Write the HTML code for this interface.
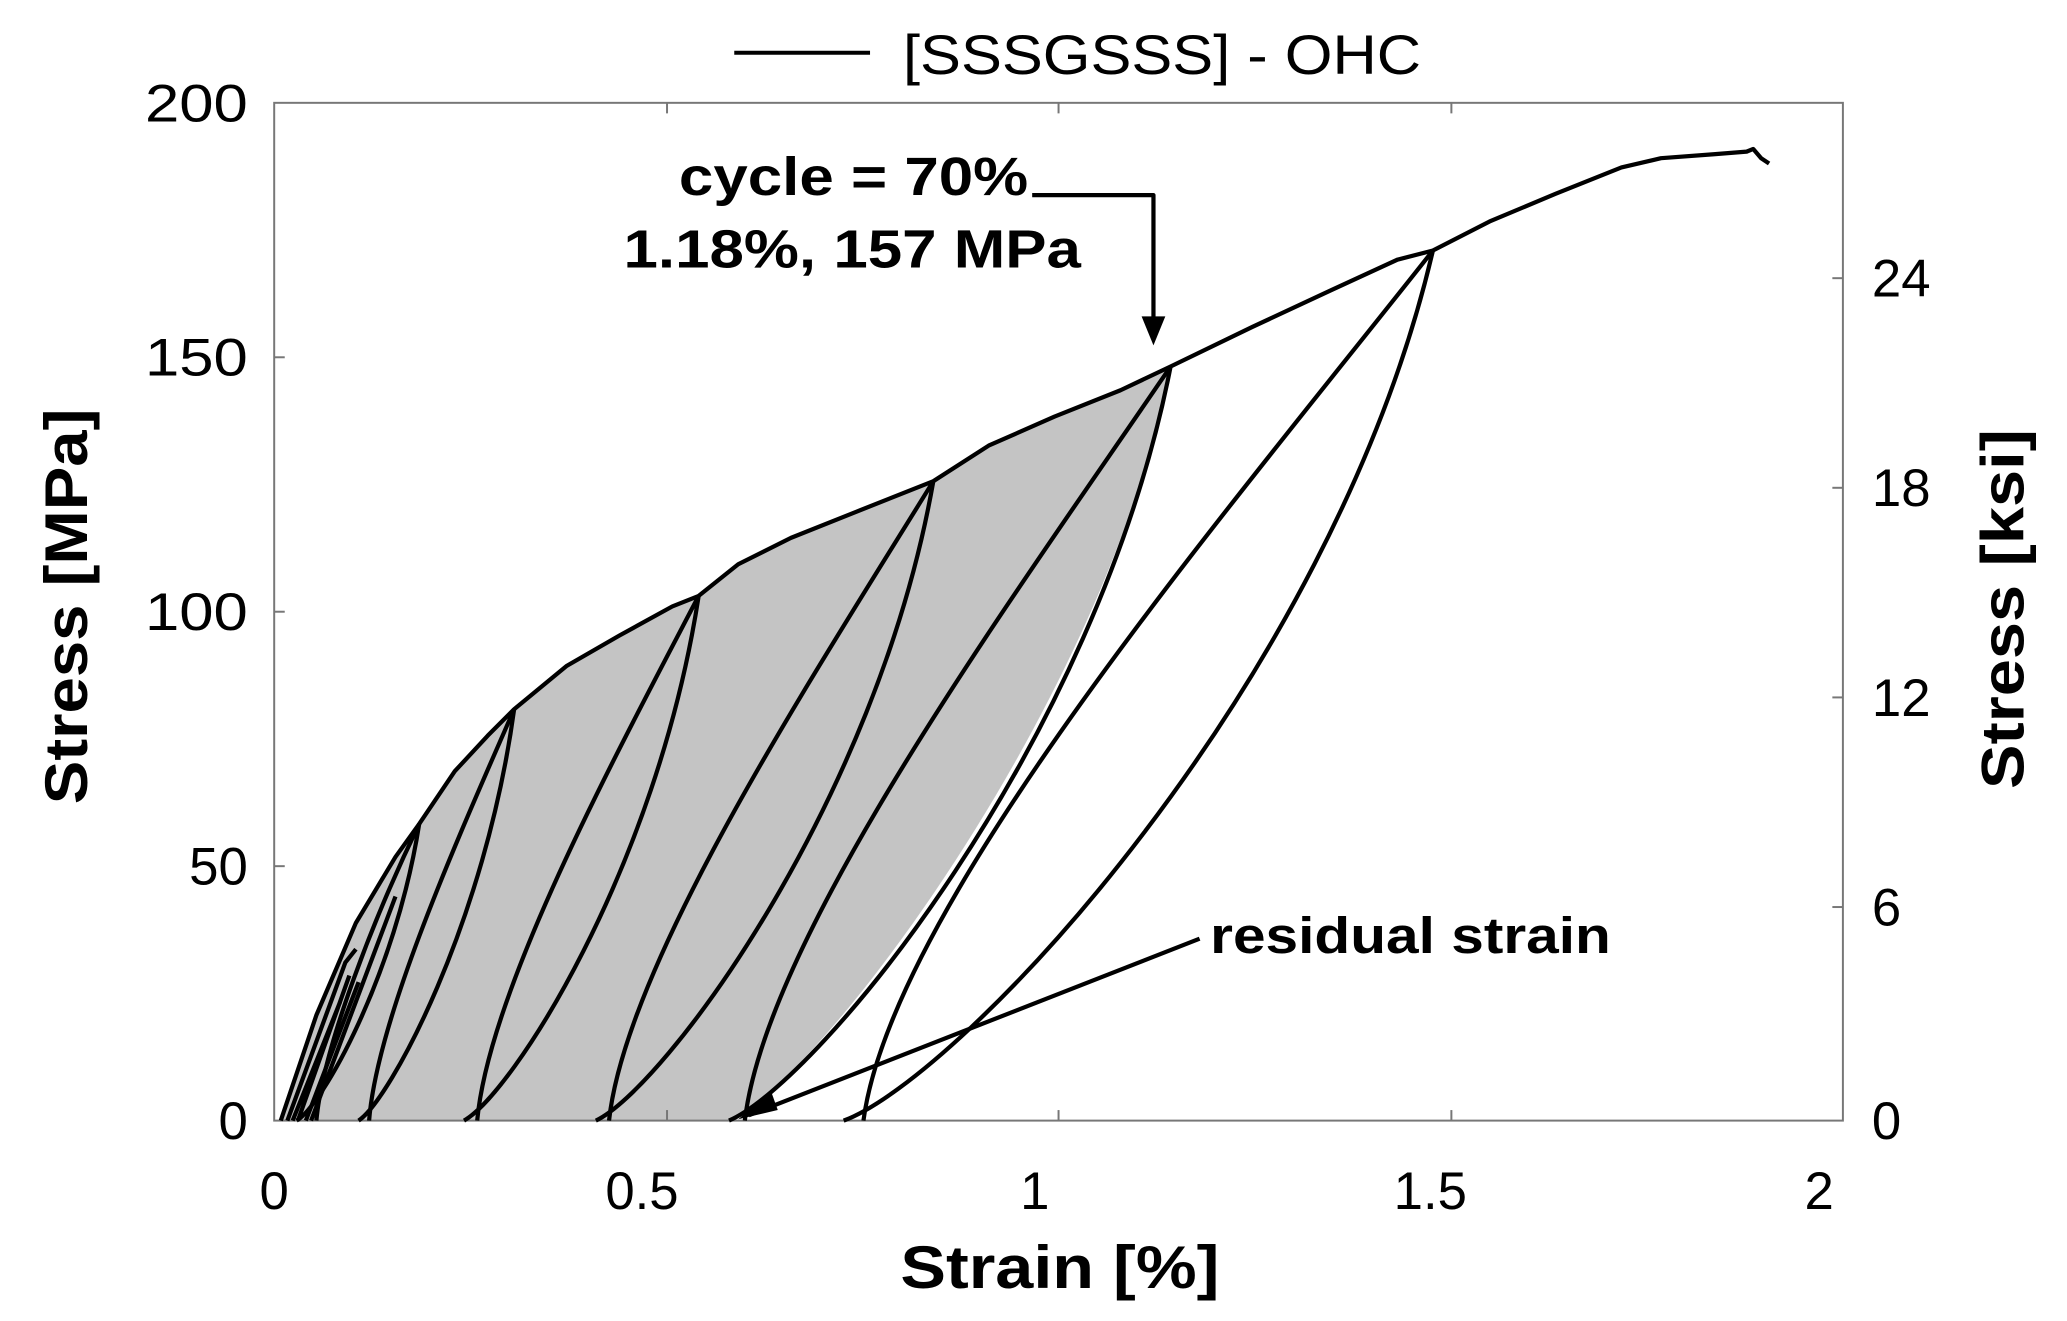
<!DOCTYPE html>
<html><head><meta charset="utf-8"><style>html,body{margin:0;padding:0;background:#fff}svg{display:block}</style></head>
<body>
<svg width="2067" height="1321" viewBox="0 0 1568 1002" preserveAspectRatio="none" xmlns="http://www.w3.org/2000/svg" font-family="Liberation Sans, sans-serif">
<rect x="0" y="0" width="1568" height="1002" fill="#fff"/>
<path d="M213,850 L240,770 L270,700 L300,650 L318,625 L345,585 L370,558 L390,538 L430,505 L470,482 L510,460 L530,452 L560,428 L600,408 L650,388 L708,365 L750,338 L800,316 L850,296 L888,278 C838,535 620,821 553,850 Z" fill="#c4c4c4"/>
<rect x="208" y="78" width="1190" height="772" fill="none" stroke="#777" stroke-width="1.5"/>
<g stroke="#777" stroke-width="1.5">
<line x1="506" y1="850" x2="506" y2="842"/><line x1="803" y1="850" x2="803" y2="842"/><line x1="1101" y1="850" x2="1101" y2="842"/>
<line x1="506" y1="78" x2="506" y2="86"/><line x1="803" y1="78" x2="803" y2="86"/><line x1="1101" y1="78" x2="1101" y2="86"/>
<line x1="208" y1="271" x2="216" y2="271"/><line x1="208" y1="464" x2="216" y2="464"/><line x1="208" y1="657" x2="216" y2="657"/>
<line x1="1398" y1="211" x2="1390" y2="211"/><line x1="1398" y1="370" x2="1390" y2="370"/><line x1="1398" y1="529" x2="1390" y2="529"/><line x1="1398" y1="688" x2="1390" y2="688"/>
</g>
<g fill="none" stroke="#000" stroke-width="3.2" stroke-linejoin="round">
<path d="M213,850 L240,770 L270,700 L300,650 L318,625 L345,585 L370,558 L390,538 L430,505 L470,482 L510,460 L530,452 L560,428 L600,408 L650,388 L708,365 L750,338 L800,316 L850,296 L888,278 L950,248 L1010,220 L1060,197 L1087,190 L1130,168 L1180,147 L1230,127 L1260,120 L1300,117 L1325,115 L1330,113 L1336,120 L1342,124"/>
<path d="M318,625 C300,740 244,839 225,850"/><path d="M240,850 C245,794 285,693 318,625"/>
<path d="M390,538 C368,700 296,834 272,850"/><path d="M280,850 C286,772 349,632 390,538"/>
<path d="M530,452 C498,660 388,830 352,850"/><path d="M362,850 C371,750 468,571 530,452"/>
<path d="M708,365 C665,610 503,826 452,850"/><path d="M462,850 C475,729 618,511 708,365"/>
<path d="M888,278 C832,565 620,821 553,850"/><path d="M565,850 C582,707 771,450 888,278"/>
<path d="M1087,190 C1010,520 729,817 640,850"/><path d="M655,850 C677,685 931,388 1087,190"/>
<path d="M218,850 L262,730 L270,720 M226,850 L265,740 M232,850 L272,745 M222,850 L258,760 M236,850 L300,680"/>
<path d="M783,148 L875,148 L875,250"/>
<path d="M910,712 L568,846"/>
</g>
<path d="M866,240 L875,262 L884,240 Z" fill="#000"/>
<path d="M560,849 L585,828 L590,842 Z" fill="#000"/>
<line x1="557" y1="40" x2="660" y2="40" stroke="#000" stroke-width="3"/>
<text x="685" y="56" font-size="42" textLength="393" lengthAdjust="spacingAndGlyphs">[SSSGSSS] - OHC</text>
<text x="515" y="148" font-size="41" font-weight="bold" textLength="265" lengthAdjust="spacingAndGlyphs">cycle = 70%</text>
<text x="473" y="203" font-size="41" font-weight="bold" textLength="347" lengthAdjust="spacingAndGlyphs">1.18%, 157 MPa</text>
<text x="918" y="723" font-size="39" font-weight="bold" textLength="304" lengthAdjust="spacingAndGlyphs">residual strain</text>
<g font-size="40" text-anchor="end">
<text x="188" y="92" textLength="78" lengthAdjust="spacingAndGlyphs">200</text><text x="188" y="285" textLength="78" lengthAdjust="spacingAndGlyphs">150</text><text x="188" y="478" textLength="78" lengthAdjust="spacingAndGlyphs">100</text><text x="188" y="671">50</text><text x="188" y="864">0</text>
</g>
<g font-size="40">
<text x="1420" y="225">24</text><text x="1420" y="384">18</text><text x="1420" y="543">12</text><text x="1420" y="702">6</text><text x="1420" y="864">0</text>
</g>
<g font-size="40" text-anchor="middle">
<text x="208" y="917">0</text><text x="487" y="917">0.5</text><text x="785" y="917">1</text><text x="1085" y="917">1.5</text><text x="1380" y="917">2</text>
</g>
<text x="683" y="977" font-size="46" font-weight="bold" textLength="242" lengthAdjust="spacingAndGlyphs">Strain [%]</text>
<text transform="translate(66,460) rotate(-90)" font-size="46" font-weight="bold" text-anchor="middle" textLength="300" lengthAdjust="spacingAndGlyphs">Stress [MPa]</text>
<text transform="translate(1535,462) rotate(-90)" font-size="46" font-weight="bold" text-anchor="middle" textLength="273" lengthAdjust="spacingAndGlyphs">Stress [ksi]</text>
</svg>
</body></html>
